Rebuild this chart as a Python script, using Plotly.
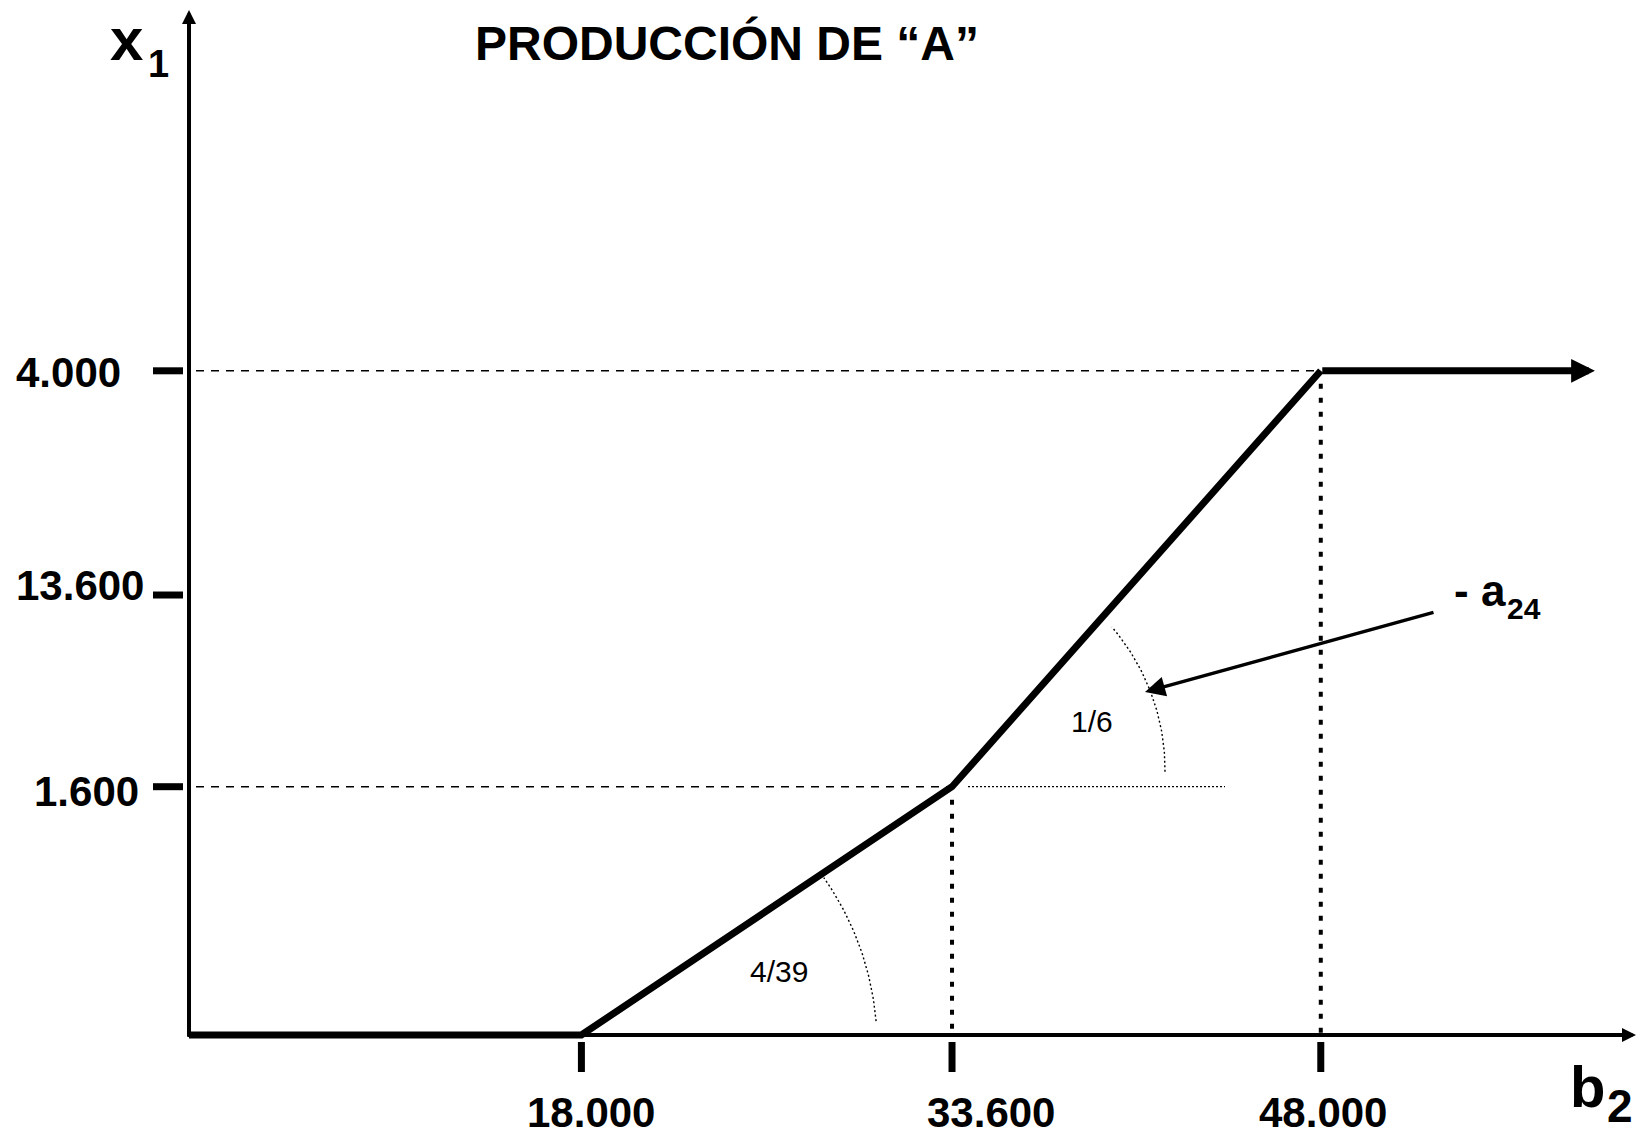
import numpy as np
from fractions import Fraction
import plotly.graph_objects as go

# ---------------- data ----------------
b2_ticks = [18000, 33600, 48000]
b2_tick_labels = ["18.000", "33.600", "48.000"]
x1_ticks = [1600, 13600, 4000]
x1_tick_labels = ["1.600", "13.600", "4.000"]

curve_b2 = [0, 18000, 33600, 48000]
curve_x1 = [0, 0, 1600, 4000]

title_text = "PRODUCCIÓN DE “A”"
y_label = ("x", "1")
x_label = ("b", "2")
pointer_label = ("- a", "24")

# ---------------- schematic (hand-drawn, non-proportional) axis scale ----------------
B2_POS = {0: 0.0, 18000: 1.062, 33600: 2.065, 48000: 3.063}
X1_POS = {0: 0.0, 1600: 1.0, 13600: 1.772, 4000: 2.675}

W, H = 1638, 1136
OX, OY = 189.0, 1035.0          # origin on the page (px)
UX, UY = 369.5, 248.3           # px per schematic unit
XR = [-OX / UX, (W - OX) / UX]
YR = [-(H - OY) / UY, OY / UY]


def u(px):
    return (px - OX) / UX


def v(py):
    return (OY - py) / UY


FONT = "Liberation Sans"


def txt(s, x, y, size, bold=True, xanchor="center", yanchor="middle", xref="paper", yref="paper",
        xshift=0, yshift=0):
    return dict(text=f"<b>{s}</b>" if bold else s, x=x, y=y, xref=xref, yref=yref, showarrow=False,
                font=dict(family=FONT, size=size, color="black"), xanchor=xanchor, yanchor=yanchor,
                xshift=xshift, yshift=yshift)


def P(px, py):
    return px / W, 1 - py / H


fig = go.Figure()

# ---- the production curve ----
cx = [B2_POS[b] for b in curve_b2]
cy = [X1_POS[x] for x in curve_x1]
fig.add_trace(go.Scatter(x=cx, y=cy, mode="lines", line=dict(color="black", width=7),
                         hoverinfo="skip", showlegend=False))

# ---- angle arcs (dotted) ----
def arc(vb, vx, r0, r1, a0, a1):
    t = np.radians(np.linspace(a0, a1, 60))
    r = np.linspace(r0, r1, 60)
    return B2_POS[vb] + r * np.cos(t) / UX, X1_POS[vx] + r * np.sin(t) / UY

for (vb, vx, r0, r1, a0, a1) in [(18000, 0, 295, 289, 2.7, 33.0), (33600, 1600, 213.5, 226, 4.0, 45.0)]:
    ax_, ay_ = arc(vb, vx, r0, r1, a0, a1)
    fig.add_trace(go.Scatter(x=ax_, y=ay_, mode="lines",
                             line=dict(color="black", width=1.4, dash="2px,2.5px"),
                             hoverinfo="skip", showlegend=False))

shapes = []
# guide lines to the kinks
for b, x in zip(curve_b2, curve_x1):
    if x == 0:
        continue
    shapes.append(dict(type="line", xref="x", yref="y", x0=u(196), x1=B2_POS[b], y0=X1_POS[x], y1=X1_POS[x],
                       line=dict(color="black", width=1.6, dash="8px,7px"), layer="below"))
    shapes.append(dict(type="line", xref="x", yref="y", x0=B2_POS[b], x1=B2_POS[b], y0=X1_POS[x] - 13 / UY,
                       y1=0, line=dict(color="black", width=4, dash="5px,9px"), layer="below"))
# dotted horizontal reference at the second kink
shapes.append(dict(type="line", xref="x", yref="y", x0=B2_POS[33600] + 16 / UX, x1=u(1225),
                   y0=X1_POS[1600], y1=X1_POS[1600],
                   line=dict(color="black", width=1.2, dash="2px,2px"), layer="below"))
# tick marks
for x in x1_ticks:
    shapes.append(dict(type="line", xref="x", yref="y", x0=u(153), x1=u(183), y0=X1_POS[x], y1=X1_POS[x],
                       line=dict(color="black", width=7)))
for b in b2_ticks:
    shapes.append(dict(type="line", xref="x", yref="y", x0=B2_POS[b], x1=B2_POS[b], y0=v(1042), y1=v(1072),
                       line=dict(color="black", width=7)))

ann = []
# axes with arrowheads
ann.append(dict(x=0, y=v(10), ax=0, ay=v(1038), xref="x", yref="y", axref="x", ayref="y", text="",
                showarrow=True, arrowhead=2, arrowsize=0.7, arrowwidth=4, arrowcolor="black"))
ann.append(dict(x=u(1636), y=0, ax=u(186), ay=0, xref="x", yref="y", axref="x", ayref="y", text="",
                showarrow=True, arrowhead=2, arrowsize=0.7, arrowwidth=4, arrowcolor="black"))
# curve continuation arrow
ann.append(dict(x=B2_POS[48000] + 0.742, y=X1_POS[4000], ax=B2_POS[48000], ay=X1_POS[4000],
                xref="x", yref="y", axref="x", ayref="y", text="",
                showarrow=True, arrowhead=2, arrowsize=0.68, arrowwidth=7, arrowcolor="black"))
# pointer to slope
ann.append(dict(x=u(1145), y=v(692), ax=u(1435), ay=v(612), xref="x", yref="y", axref="x", ayref="y", text="",
                showarrow=True, arrowhead=2, arrowsize=1.15, arrowwidth=3.5, arrowcolor="black"))

# title and axis labels
ann.append(txt(title_text, *P(727, 43), 48))
ann.append(txt(y_label[0], *P(108, 39), 60, xanchor="left"))
ann.append(txt(y_label[1], *P(146, 64), 38, xanchor="left"))
ann.append(txt(x_label[0], *P(1568, 1086), 58, xanchor="left"))
ann.append(txt(x_label[1], *P(1605, 1106), 46, xanchor="left"))
ann.append(txt(pointer_label[0], *P(1452, 591), 44, xanchor="left"))
ann.append(txt(pointer_label[1], *P(1505, 608), 30, xanchor="left"))

# tick labels
y_lab_left = [32, 14, 14]
y_lab_shift = [-5, 10, -2]
for x, lab, lx, sh in zip(x1_ticks, x1_tick_labels, y_lab_left, y_lab_shift):
    ann.append(txt(lab, lx / W, X1_POS[x], 42, xanchor="left", yref="y", yshift=sh))
x_lab_shift = [10, 39, 2]
for b, lab, sh in zip(b2_ticks, b2_tick_labels, x_lab_shift):
    ann.append(txt(lab, B2_POS[b], 1 - 1112 / H, 42, xref="x", xshift=sh))

# slope labels computed from the data
pts = list(zip(curve_b2, curve_x1))
slopes = []
for (b0, x0), (b1, x1) in zip(pts[1:-1], pts[2:]):
    f = Fraction(x1 - x0, b1 - b0)
    slopes.append(f"{f.numerator}/{f.denominator}")
slope_pos = [(779, 971), (1092, 721)]
for s, (px, py) in zip(slopes, slope_pos):
    ann.append(txt(s, *P(px, py), 30, bold=False))

fig.update_layout(
    width=W, height=H, margin=dict(l=0, r=0, t=0, b=0),
    paper_bgcolor="white", plot_bgcolor="white",
    xaxis=dict(range=XR, visible=False, fixedrange=True),
    yaxis=dict(range=YR, visible=False, fixedrange=True),
    shapes=shapes, annotations=ann, showlegend=False,
)

fig.write_html("out.html", config={"displayModeBar": False},
               post_script="document.body.style.margin='0';document.body.style.overflow='hidden';")
